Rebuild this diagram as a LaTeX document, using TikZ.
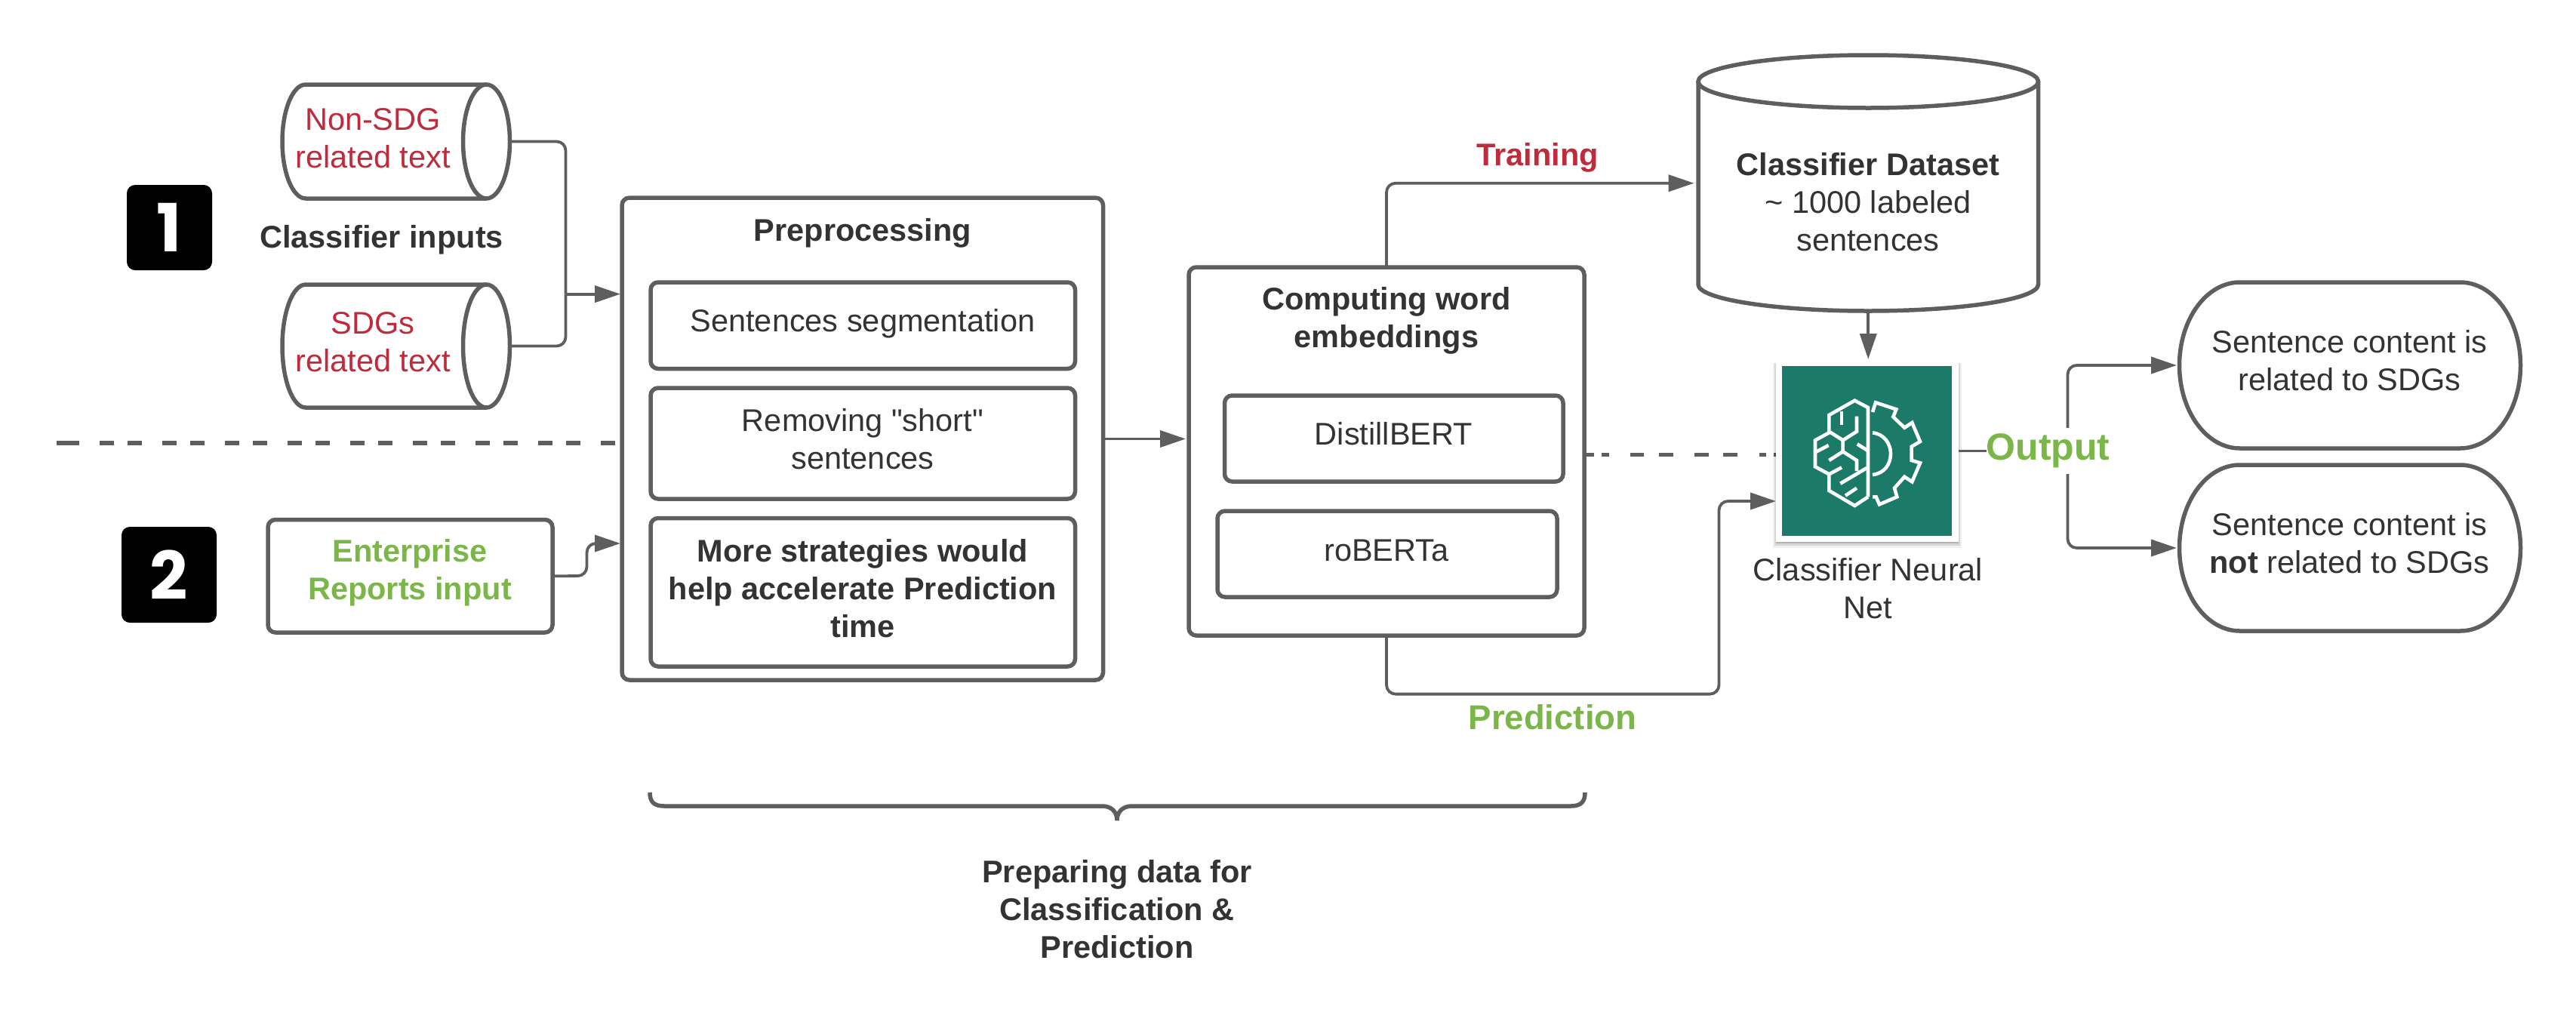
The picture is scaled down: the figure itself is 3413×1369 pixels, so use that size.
\documentclass[tikz,border=0pt]{standalone}
\usepackage{fontspec}
\setmainfont{Liberation Sans}
\newfontfamily\badgefont{Poppins}
\newfontfamily\straightfont{Liberation Sans}
\usetikzlibrary{arrows.meta}
\definecolor{linec}{HTML}{5E5E5E}
\definecolor{txtc}{HTML}{333333}
\definecolor{redc}{HTML}{BE2B3B}
\definecolor{greenc}{HTML}{7AB648}
\definecolor{teal}{HTML}{1C7B68}
\newcommand{\bodyfont}{\fontsize{41.5}{50}\selectfont}
\tikzset{
  txt/.style={inner sep=0pt,outer sep=0pt,align=center,font=\bodyfont,text=txtc},
  btxt/.style={txt,font=\bodyfont\bfseries},
  redt/.style={txt,text=redc},
  shapebox/.style={inner sep=0pt,outer sep=0pt},
  tbox/.style={draw=linec,line width=5.5pt,rounded corners=10pt,fill=white,inner sep=0pt,outer sep=0pt},
  outline/.style={draw=linec,line width=5.5pt,fill=white},
  conn/.style={draw=linec,line width=3.8pt,rounded corners=12pt,-{Triangle[length=34pt,width=22pt]}},
  connplain/.style={draw=linec,line width=3.8pt},
  dashline/.style={draw=linec,line width=5.5pt,dash pattern=on 19pt off 18pt on 19pt off 27pt},
  dashlineR/.style={draw=linec,line width=5.5pt,dash pattern=on 13pt off 10pt on 10pt off 28pt on 18pt off 20pt on 19pt off 28pt on 19pt off 19pt on 19pt off 29pt on 9pt off 10pt on 15pt off 50pt},
  badge/.style={fill=black,rounded corners=11pt,inner sep=0pt,outer sep=0pt,text=white,font=\fontsize{88}{88}\selectfont\badgefont\bfseries},
  iconline/.style={draw=white,line width=4.6pt,line join=miter,line cap=butt},
}
% #1 node name, #2 vertical radius
\newcommand{\drawcyl}[2]{%
  \draw[outline] ([xshift=-31pt]#1.north east) -- ([xshift=31pt]#1.north west)
    arc[start angle=90,end angle=270,x radius=31pt,y radius=#2pt]
    -- ([xshift=-31pt]#1.south east);
  \draw[outline] ([xshift=-31pt]#1.east) ellipse [x radius=31pt,y radius=#2pt];
}
\newcommand{\drawpill}[1]{%
  \draw[outline] ([xshift=80pt]#1.north west) -- ([xshift=-80pt]#1.north east)
    arc[start angle=90,end angle=-90,x radius=80pt,y radius=110pt]
    -- ([xshift=80pt]#1.south west)
    arc[start angle=270,end angle=90,x radius=80pt,y radius=110pt] -- cycle;
}
\begin{document}
\begin{tikzpicture}[x=1pt,y=-1pt]
\useasboundingbox (0,0) rectangle (3413,1369);
\fill[white] (0,0) rectangle (3413,1369);

% separator (behind the boxes)
\coordinate (dashA) at (75,587);
\coordinate (dashAb) at (105,587);
\coordinate (dashAc) at (132,587);
\coordinate (dashB) at (824,587);
\draw[connplain,line width=5.5pt] (dashA) -- (dashAb);
\draw[dashline] (dashAc) -- (dashB);
\coordinate (dashC) at (2099,602.7);
\coordinate (dashD) at (2361,602.7);
\draw[dashlineR] (dashC) -- (dashD);

% badges
\node[badge,minimum width=113pt,minimum height=113pt] (badgeA) at (224.5,301.5) {1};
\node[badge,minimum width=126pt,minimum height=127pt] (badgeB) at (224,761.5) {2};

% cylinders
\node[shapebox,minimum width=301.5pt,minimum height=151pt] (cylA) at (524.75,187.5) {};
\node[shapebox,minimum width=301.5pt,minimum height=163pt] (cylB) at (524.75,458.5) {};
\drawcyl{cylA}{75.5}
\drawcyl{cylB}{81.5}
\node[redt] (cylAt) at (494,183) {Non-SDG\\related text};
\node[redt] (cylBt) at (494,453) {SDGs\\related text};
\node[btxt] (inputs) at (505.5,318) {Classifier inputs};

% enterprise
\node[tbox,minimum width=377pt,minimum height=149.5pt] (ent) at (543.5,763.25) {};
\node[btxt,text=greenc] (entt) at (543,759) {Enterprise\\Reports input};

% preprocessing
\node[tbox,minimum width=637.5pt,minimum height=639pt] (pre) at (1142.75,581.5) {};
\node[btxt] (pret) at (1143,309) {Preprocessing};
\node[tbox,minimum width=562.5pt,minimum height=114.5pt] (bA) at (1143.25,431.25) {};
\node[txt] (bAt) at (1143,429) {Sentences segmentation};
\node[tbox,minimum width=562.5pt,minimum height=147pt] (bB) at (1143.25,587.5) {};
\node[txt] (bBt) at (1143,582) {{\straightfont Removing "short"}\\sentences};
\node[tbox,minimum width=562.5pt,minimum height=196.5pt] (bC) at (1143.25,784.75) {};
\node[btxt] (bCt) at (1143,780) {More strategies would\\help accelerate Prediction\\time};

% embeddings
\node[tbox,minimum width=524pt,minimum height=488pt] (comp) at (1837,598) {};
\node[btxt] (compt) at (1837,425) {Computing word\\embeddings};
\node[tbox,minimum width=448.5pt,minimum height=114pt] (dist) at (1846.75,581) {};
\node[txt] (distt) at (1846.5,575) {DistillBERT};
\node[tbox,minimum width=450pt,minimum height=114pt] (rob) at (1838,734) {};
\node[txt] (robt) at (1837,729) {roBERTa};

% dataset cylinder
\node[shapebox,minimum width=450.5pt,minimum height=339pt] (dbs) at (2475.25,242.5) {};
\draw[outline] ([yshift=-35pt]dbs.north west) -- ([yshift=35pt]dbs.south west)
  arc[start angle=180,end angle=360,x radius=225.25pt,y radius=35pt]
  -- ([yshift=-35pt]dbs.north east);
\draw[outline] ([yshift=-35pt]dbs.north) ellipse [x radius=225.25pt,y radius=35pt];
\node[txt] (dbst) at (2475,268) {\textbf{Classifier Dataset}\\\raisebox{0pt}{\char126} 1000 labeled\\sentences};

% icon
\fill[black,opacity=.06] (2349,481) rectangle (2599,726);
\fill[black,opacity=.10] (2351,481) rectangle (2597,723);
\fill[black,opacity=.16] (2353,481) rectangle (2595,720);
\node[shapebox,fill=white,minimum width=242pt,minimum height=241pt] (icon) at (2474,597.5) {};
\fill[teal] (2361,485) rectangle (2586,710);
\begin{scope}[shift={(2340,470)},x=0.33333pt,y=-0.33333pt]
  \draw[iconline] (405,565) -- (405,210) -- (352,182) -- (250,240) -- (250,310) -- (195,340) -- (195,445) -- (250,475) -- (250,540) -- (352,600) -- (405,565);
  \draw[iconline] (250,305) -- (305,340) -- (360,305) -- (360,245);
  \draw[iconline] (300,225) -- (300,278);
  \draw[iconline] (305,340) -- (305,385) -- (360,420) -- (360,462);
  \draw[iconline] (362,355) -- (402,380);
  \draw[iconline] (195,388) -- (248,360);
  \draw[iconline] (250,420) -- (305,385);
  \draw[iconline] (250,475) -- (300,448);
  \draw[iconline] (295,512) -- (400,450);
  \draw[iconline] (315,560) -- (360,530);
  \draw[iconline] (423,310) .. controls (470,315) and (495,355) .. (495,393) .. controls (495,435) and (470,472) .. (423,477);
  \draw[iconline] (423,228) -- (435,190) -- (517,217) -- (505,247) -- (550,290) -- (580,270) -- (612,345) -- (578,365) -- (578,420) -- (612,430) -- (580,505) -- (550,485) -- (510,530) -- (520,565) -- (450,595) -- (437,565) -- (423,565);
\end{scope}
\node[txt] (icont) at (2475,780) {Classifier Neural\\Net};

% pills
\node[shapebox,minimum width=452pt,minimum height=220pt] (pillA) at (3113.5,484) {};
\node[shapebox,minimum width=452pt,minimum height=220pt] (pillB) at (3113.5,726) {};
\drawpill{pillA}
\drawpill{pillB}
\node[txt] (pillAt) at (3113,478) {Sentence content is\\related to SDGs};
\node[txt] (pillBt) at (3113,720) {Sentence content is\\\textbf{not} related to SDGs};

% connectors
\coordinate (joinA) at (749.5,389.6);
\draw[connplain,rounded corners=12pt] (cylA.east) -| (joinA);
\draw[connplain,rounded corners=12pt] (cylB.east) -| (joinA);
\draw[conn,shorten >=2pt,rounded corners=0pt] (joinA) -- (joinA -| pre.west);
\coordinate (entA) at (777.5,763);
\coordinate (entB) at (777.5,720);
\draw[conn,shorten >=2pt] (ent.east) -- (entA) -- (entB) -- (entB -| pre.west);
\draw[conn,shorten >=4pt,rounded corners=0pt] (pre.east) -- (pre.east -| comp.west);
\coordinate (trainA) at (1837,242.7);
\draw[conn,shorten >=5.5pt] (comp.north) -- (trainA) -- (trainA -| dbs.west);
\node[redt,font=\bodyfont\bfseries] (traint) at (2037,209) {Training};
\draw[conn,rounded corners=0pt,shorten >=1pt] (dbs.south) -- (dbs.south |- icon.north);
\coordinate (predA) at (1837,919.6);
\coordinate (predB) at (2277.5,919.6);
\coordinate (predC) at (2277.5,664);
\draw[conn] (comp.south) -- (predA) -- (predB) -- (predC) -- (predC -| icon.west);
\node[btxt,text=greenc,font=\fontsize{45.5}{50}\selectfont\bfseries] (predt) at (2057,950) {Prediction};
\coordinate (fork) at (2739.5,597.5);
\draw[conn,shorten >=3.5pt] (fork) |- (pillA.west);
\draw[conn,shorten >=3.5pt] (fork) |- (pillB.west);
\node[shapebox,fill=white,minimum width=163pt,minimum height=61pt,text=greenc,font=\fontsize{50}{60}\selectfont\bfseries] (out) at (2713.5,597.5) {Output};
\draw[connplain] (icon.east) -- (out.west);

% brace
\draw[draw=linec,line width=5.5pt] (861,1050) .. controls (861,1062) and (866,1068) .. (880,1068) -- (1460,1068) .. controls (1472,1068) and (1480,1075) .. (1480,1087) .. controls (1480,1075) and (1488,1068) .. (1500,1068) -- (2081,1068) .. controls (2095,1068) and (2100,1062) .. (2100,1050);
\node[btxt] (bracet) at (1480,1205) {Preparing data for\\Classification \&\\Prediction};
\end{tikzpicture}
\end{document}
